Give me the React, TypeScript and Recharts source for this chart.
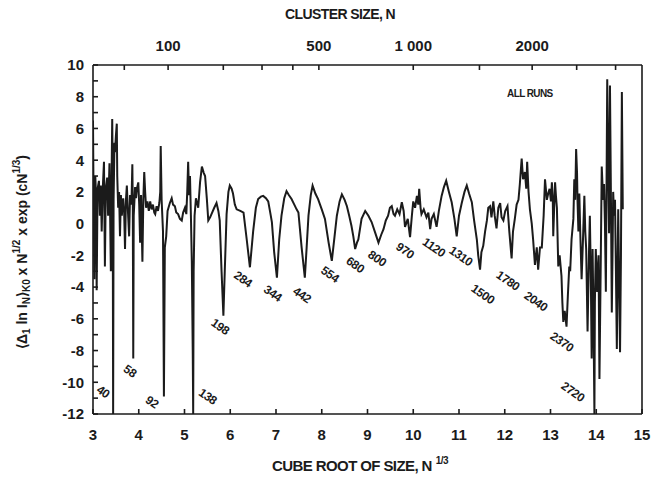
import React from 'react';
import { LineChart, Line, XAxis, YAxis, ReferenceDot, Label } from 'recharts';

// [cube root of N, signal], left to right
const smallClusters: [number, number][] = [
  [3.0, 6.5], [3.01, 2.5], [3.03, -3.5], [3.05, 3.0], [3.07, 1.5], [3.08, -4.2], [3.1, 2.2],
  [3.13, 2.7], [3.15, 0.5], [3.17, 2.4], [3.19, -0.5], [3.21, 2.0], [3.24, 3.9], [3.26, -2.7],
  [3.28, 2.2], [3.31, 2.9], [3.33, 0.5], [3.36, 3.8], [3.39, -3.0], [3.41, 4.0], [3.42, 6.6],
  [3.43, 3.5], [3.44, -12], [3.45, 1.5], [3.47, 5.1], [3.48, 4.5], [3.5, 5.5], [3.52, 6.3],
  [3.53, 3.0], [3.55, 1.0], [3.57, 2.0], [3.59, -0.8], [3.61, 1.8], [3.63, 0.5], [3.66, 1.6],
  [3.68, 0.8], [3.7, -1.6], [3.72, 1.5], [3.74, 2.4], [3.76, 1.0], [3.79, -0.8], [3.81, 1.8],
  [3.84, 1.2], [3.86, 3.75], [3.87, 1.0], [3.88, -8.5], [3.89, 0.5], [3.92, 2.3], [3.94, 1.6],
  [3.96, 2.2], [3.99, 2.6], [4.01, 1.2], [4.03, -1.2], [4.05, 1.8], [4.08, -2.4], [4.1, 1.5],
  [4.12, 3.25], [4.14, 2.0], [4.16, 1.0], [4.19, 1.4], [4.22, 0.8], [4.25, 1.4], [4.28, 0.9],
  [4.31, 1.2], [4.34, 0.7], [4.36, 0.6], [4.39, 1.1], [4.42, 0.8], [4.45, 1.3], [4.47, 2.0],
  [4.48, 4.9], [4.5, 1.5], [4.53, -0.5], [4.55, -10.9], [4.57, -1.5], [4.6, -0.8], [4.63, 0.8],
  [4.65, 1.0], [4.68, 1.3], [4.72, 1.6], [4.75, 1.2], [4.79, 1.1], [4.82, 0.7], [4.86, 0.6],
  [4.9, 0.3], [4.94, 0.2], [4.97, 0.7], [5.01, 1.0], [5.04, 0.6], [5.06, 2.0], [5.08, 3.9],
  [5.1, 1.8], [5.12, 3.0], [5.14, 0.5], [5.16, -2.4], [5.18, -8], [5.19, -12], [5.2, -3],
  [5.22, 0.5], [5.25, 1.6], [5.3, 1.0], [5.34, 2.6], [5.38, 3.6], [5.42, 3.2], [5.45, 3.0],
  [5.49, 1.5], [5.52, 0.2], [5.56, 0.4], [5.59, 0.6], [5.65, 1.0], [5.7, 1.3], [5.74, 0.8],
  [5.77, 0.2], [5.81, -3.0], [5.85, -5.8], [5.88, -3.0], [5.92, 0.6], [5.96, 2.0], [5.99, 2.4],
  [6.03, 2.2], [6.06, 1.9], [6.1, 1.2], [6.14, 0.9],
];

const midClusters: [number, number][] = [
  [6.22, 0.8], [6.29, 0.7], [6.36, -1.0], [6.43, -2.75], [6.5, -0.5], [6.56, 1.0], [6.61, 1.55],
  [6.67, 1.7], [6.72, 1.75], [6.78, 1.6], [6.83, 1.4], [6.88, 0.6], [6.91, 0.1], [6.96, -1.8],
  [7.02, -3.4], [7.07, -1.0], [7.12, 0.5], [7.18, 1.6], [7.23, 2.05], [7.28, 1.8], [7.34, 1.55],
  [7.4, 1.2], [7.45, 0.9], [7.49, 0.7], [7.56, -1.5], [7.63, -3.4], [7.67, -1.5], [7.71, 0.5],
  [7.76, 1.8], [7.8, 2.4], [7.86, 1.9], [7.92, 1.55], [8.0, 0.9], [8.07, 0.3], [8.15, -1.2],
  [8.22, -2.35], [8.28, -0.8], [8.33, 0.5], [8.39, 1.4], [8.44, 1.85], [8.5, 1.5], [8.55, 1.1],
  [8.6, 0.5], [8.65, -0.15], [8.69, -0.8], [8.73, -1.6], [8.77, -1.2], [8.8, -1.0], [8.87, 0.3],
  [8.95, 0.8], [9.02, 0.5], [9.09, 0.1], [9.16, -0.5], [9.24, -1.2], [9.3, -0.7], [9.35, -0.35],
  [9.4, 0.2], [9.45, 0.5], [9.49, 1.0], [9.53, 1.1], [9.57, 0.6], [9.6, 0.5], [9.65, 0.9],
  [9.7, 0.6], [9.75, 1.35], [9.79, 0.8], [9.82, -0.2], [9.88, 0.3], [9.93, -0.85], [9.97, 0.5],
  [10.0, 1.4], [10.04, 1.0], [10.08, 1.75], [10.11, 1.2], [10.13, 2.2], [10.16, 1.0],
  [10.18, 0.6], [10.23, 0.9], [10.29, 0.4], [10.33, 0.7], [10.37, -0.35],
];

const largeClusters: [number, number][] = [
  [10.4, 0.3], [10.45, 0.6], [10.51, -0.2], [10.56, 0.8], [10.62, 1.75], [10.67, 2.3],
  [10.72, 2.7], [10.78, 2.0], [10.84, 1.35], [10.9, 0.3], [10.95, -0.8], [11.0, 0.5],
  [11.06, 1.3], [11.12, 2.0], [11.17, 2.4], [11.22, 1.9], [11.28, 1.35], [11.33, 0.2],
  [11.39, -1.0], [11.42, -2.0], [11.46, -2.9], [11.49, -1.8], [11.53, -1.4], [11.57, -0.5],
  [11.61, 0.2], [11.64, 1.0], [11.68, 1.1], [11.71, 0.4], [11.75, 1.4], [11.78, 0.5],
  [11.82, -0.3], [11.86, 1.0], [11.9, 1.3], [11.93, 0.4], [11.97, 0.2], [12.01, 0.8],
  [12.06, 1.1], [12.1, -0.5], [12.15, -2.2], [12.18, -0.5], [12.22, 0.3], [12.26, 1.2],
  [12.3, 1.5], [12.33, 2.5], [12.37, 4.1], [12.4, 2.8], [12.44, 3.25], [12.47, 2.2],
  [12.49, 3.9], [12.52, 2.0], [12.55, 0.9], [12.59, 0.0], [12.62, -1.0], [12.66, -2.6],
  [12.7, -1.5], [12.73, -2.9], [12.77, -1.5], [12.81, -1.5], [12.85, 0.5], [12.88, 2.8],
  [12.92, 1.5], [12.95, 1.9],
];

const largestClusters: [number, number][] = [
  [12.98, 2.2], [13.01, 1.4], [13.03, 2.6], [13.05, 1.5], [13.06, -0.8], [13.08, 1.0],
  [13.1, 2.6], [13.12, 1.7], [13.14, 1.0], [13.16, -1.5], [13.17, -2.7], [13.2, -2.0],
  [13.24, -3.3], [13.26, -5.0], [13.28, -6.2], [13.31, -5.5], [13.35, -6.5], [13.38, -4.5],
  [13.41, -2.7], [13.43, -3.0], [13.46, -1.0], [13.5, 0.3], [13.52, 2.8], [13.54, 1.5],
  [13.56, 4.7], [13.58, 3.2], [13.59, 1.5], [13.61, -0.5], [13.63, 1.9], [13.65, -0.5],
  [13.68, -3.5], [13.71, -1.0], [13.74, 1.75], [13.76, -0.5], [13.78, -1.6], [13.81, -6.8],
  [13.84, -2.0], [13.86, 0.5], [13.88, -3.0], [13.9, -8.5], [13.92, -1.6], [13.94, -6],
  [13.96, -12], [13.97, -5], [13.99, -1.6], [14.02, -4.3], [14.05, -2.0], [14.07, -9.8],
  [14.1, -2.0], [14.12, 3.6], [14.15, 1.5], [14.17, 2.5], [14.19, 0.0], [14.21, -4.3],
  [14.24, 9.1], [14.26, 4.0], [14.28, -0.6], [14.3, 8.7], [14.32, 2.0], [14.34, -5.6],
  [14.36, -1.0], [14.37, 2.0], [14.39, 0.5], [14.41, 1.5], [14.43, -3.0], [14.45, -7.9],
  [14.47, -2.0], [14.48, 0.9], [14.5, -3.5], [14.52, -8.1], [14.54, -2.0], [14.56, 8.3],
  [14.58, 0.9],
];

const cubeRootTicks = [3, 4, 5, 6, 7, 8, 9, 10, 11, 12, 13, 14, 15];
const signalTicks = [-12, -11, -10, -9, -8, -7, -6, -5, -4, -3, -2, -1, 0, 1, 2, 3, 4, 5, 6, 7, 8, 9, 10];
const clusterSizes = [50, 100, 200, 300, 400, 500, 1000, 1500, 2000, 2500, 3000];
const labeledSizes = [100, 500, 1000, 2000];

// magic-number labels: text, and where they sit (cube root, signal)
const shellNames = ['40', '58', '92', '138', '198', '284', '344', '442', '554', '680', '800', '970', '1120', '1310', '1500', '1780', '2040', '2370', '2720'];
const shellX = [3.22, 3.81, 4.29, 5.51, 5.78, 6.28, 6.93, 7.57, 8.18, 8.73, 9.21, 9.82, 10.45, 11.04, 11.52, 12.07, 12.68, 13.25, 13.49];
const shellY = [-10.6, -9.3, -11.25, -10.9, -6.5, -3.5, -4.4, -4.5, -3.2, -2.6, -2.2, -1.7, -1.5, -2.05, -4.45, -3.6, -4.9, -7.45, -10.6];

const data = [...smallClusters, ...midClusters, ...largeClusters, ...largestClusters].map(([x, y]) => ({ x, y }));

const FONT = '"Liberation Sans", Arial, sans-serif';
const INK = '#1b1b1b';

const tickStyle = { fill: INK, fontSize: 15, fontWeight: 700, fontFamily: FONT };

const formatSize = (v: number) => {
  const n = Math.round(v * v * v);
  if (!labeledSizes.includes(n)) return '';
  return n === 1000 ? '1 000' : String(n);
};

const App: React.FC = () => {
  return (
    <div style={{ position: 'absolute', left: 0, top: 0, width: 652, height: 481, background: '#fff' }}>
      <LineChart
        width={652}
        height={481}
        data={data}
        margin={{ top: 35, right: 0, bottom: 37, left: 33 }}
      >
        <XAxis
          dataKey="x"
          type="number"
          domain={[3, 15]}
          ticks={cubeRootTicks}
          allowDataOverflow
          height={30}
          stroke={INK}
          strokeWidth={1.6}
          tickSize={-5}
          tickMargin={20}
          tick={tickStyle}
        >
          <Label
            content={() => (
              <text x={360} y={471} textAnchor="middle" fill={INK} fontSize={15} fontWeight={700} fontFamily={FONT} letterSpacing={-0.6}>
                CUBE ROOT OF SIZE, N
                <tspan dx={4} dy={-7} fontSize={10}>1/3</tspan>
              </text>
            )}
          />
        </XAxis>
        <XAxis
          xAxisId="top"
          orientation="top"
          dataKey="x"
          type="number"
          domain={[3, 15]}
          ticks={clusterSizes.map((n) => Math.cbrt(n))}
          tickFormatter={formatSize}
          allowDataOverflow
          height={30}
          stroke={INK}
          strokeWidth={1.6}
          tickSize={-5}
          tickMargin={19}
          tick={tickStyle}
        >
          <Label
            content={() => (
              <text x={340} y={19} textAnchor="middle" fill={INK} fontSize={14} fontWeight={700} fontFamily={FONT} letterSpacing={-0.6}>
                CLUSTER SIZE, N
              </text>
            )}
          />
        </XAxis>
        <YAxis
          type="number"
          domain={[-12, 10]}
          ticks={signalTicks}
          tickFormatter={(v: number) => (v % 2 === 0 ? String(v) : '')}
          allowDataOverflow
          width={60}
          stroke={INK}
          strokeWidth={1.6}
          tickSize={-5}
          tickMargin={14}
          tick={tickStyle}
        >
          <Label
            content={() => (
              <text
                x={22}
                y={252}
                transform="rotate(-90 22 252)"
                textAnchor="middle"
                dominantBaseline="central"
                fill={INK}
                fontSize={14}
                fontWeight={700}
                fontFamily={FONT}
              >
                <tspan>⟨Δ</tspan>
                <tspan dy={4} fontSize={10}>1</tspan>
                <tspan dy={-4}> ln I</tspan>
                <tspan dy={4} fontSize={10}>N</tspan>
                <tspan dy={-4}>⟩</tspan>
                <tspan dy={4} fontSize={10}>K0</tspan>
                <tspan dy={-4}> x N</tspan>
                <tspan dy={-6} fontSize={10}>1/2</tspan>
                <tspan dy={6}> x exp (cN</tspan>
                <tspan dy={-6} fontSize={10}>1/3</tspan>
                <tspan dy={6}>)</tspan>
              </text>
            )}
          />
        </YAxis>
        <YAxis
          yAxisId="right"
          orientation="right"
          type="number"
          domain={[-12, 10]}
          ticks={signalTicks}
          tickFormatter={() => ''}
          width={10}
          stroke={INK}
          strokeWidth={1.6}
          tickSize={-4}
        />
        <Line
          type="linear"
          dataKey="y"
          stroke={INK}
          strokeWidth={2}
          dot={false}
          isAnimationActive={false}
        />
        {shellNames.map((name, i) => (
          <ReferenceDot
            key={name}
            x={shellX[i]}
            y={shellY[i]}
            r={0}
            shape={(p: any) => (
              <text
                x={p.cx}
                y={p.cy}
                transform={`rotate(35 ${p.cx} ${p.cy})`}
                textAnchor="middle"
                dominantBaseline="central"
                fill={INK}
                fontSize={12}
                fontWeight={700}
                fontFamily={FONT}
                letterSpacing={-0.4}
              >
                {name}
              </text>
            )}
          />
        ))}
        <ReferenceDot
          x={12.55}
          y={8.2}
          r={0}
          shape={(p: any) => (
            <text x={p.cx} y={p.cy} textAnchor="middle" dominantBaseline="central" fill={INK} fontSize={10} fontWeight={700} fontFamily={FONT} letterSpacing={-0.6}>
              ALL RUNS
            </text>
          )}
        />
      </LineChart>
    </div>
  );
};

export default App;
